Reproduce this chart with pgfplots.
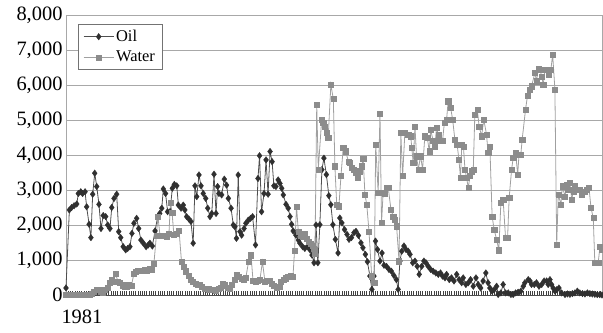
\documentclass[border=0pt]{standalone}
\usepackage{fontspec}
\setmainfont{Liberation Serif}
\usepackage{pgfplots}
\usepackage{pgfplotstable}
\pgfplotsset{compat=1.18}
\definecolor{oilc}{HTML}{303030}
\definecolor{waterc}{HTML}{8C8C8C}
\definecolor{waterl}{HTML}{A0A0A0}
\definecolor{gridc}{HTML}{A8A8A8}

\pgfplotstableread{
m v
0 200
1.5 2430
2.5 2500
3.6 2550
4.8 2600
5.5 2900
6.6 2950
7.4 2900
8.5 2950
9.2 2520
10.3 2020
11.1 1640
11.9 2880
12.8 3480
13.7 3100
14.7 2590
15.6 1900
16.6 2270
17.7 2240
18.6 2000
19.6 1900
20.4 2500
21.4 2760
22.6 2880
23.5 1810
24.4 1640
25.5 1380
26.6 1290
27.5 1330
28.5 1380
29.4 1760
30.3 2050
31.5 2190
32.4 1900
33.4 1570
34.5 1480
35.7 1380
36.7 1430
37.4 1480
38.5 1400
39.7 1830
40.9 2240
41.8 2330
42.7 2480
43.4 3030
44.4 2900
45.3 2380
46.4 2380
47.4 3050
48.3 3160
49.4 3120
50.1 2570
51.3 2480
52.3 2570
53.0 2430
53.8 2240
54.8 2170
55.7 2100
56.7 1480
57.5 3120
58.3 2810
59.3 3430
60.2 3120
61.2 2900
62.3 2760
63.2 2480
64.2 2240
65.0 2330
66.0 3450
66.9 2330
67.6 3100
68.2 2900
69.4 2860
70.6 3310
71.6 3140
72.4 2760
73.6 2480
74.6 2000
75.3 1950
76.0 1620
76.8 3430
77.6 1810
78.3 1710
79.4 1900
80.2 2050
81.3 2140
82.3 2190
83.2 2240
84.5 1430
85.6 3330
86.3 3980
87.2 2380
88.3 2900
89.2 3860
90.1 2880
91.0 4100
91.9 3810
92.7 3120
93.6 3100
94.6 3290
95.4 3190
96.2 3050
96.9 2860
98.1 2590
99.1 2480
99.9 2240
100.6 2020
101.3 1830
102.5 1710
103.6 1570
104.3 1480
105.5 1380
106.5 1330
107.6 1380
108.8 1290
109.7 1140
110.6 920
111.5 2000
112.3 920
113.2 2010
114.1 3580
115.0 3910
116.1 3440
117.2 2840
118.1 2580
119.0 2010
120.1 1590
121.3 1200
122.1 2200
123.0 2060
124.2 1870
125.3 1730
126.2 1590
127.3 1640
128.4 1780
129.3 1820
130.4 1700
131.5 1490
132.4 1350
133.5 1160
134.4 950
135.5 540
136.4 160
137.3 540
138.0 1540
138.9 1300
140.0 970
140.9 1200
141.8 850
142.9 820
144.0 730
145.1 680
146.2 560
147.3 440
148.1 160
148.9 970
149.7 1250
150.7 1400
151.6 1300
152.6 1250
153.4 1160
154.6 920
155.6 970
156.6 820
157.5 590
158.6 820
159.6 970
160.5 920
161.5 820
162.6 730
163.7 680
164.9 630
166.0 590
167.0 630
167.9 540
169.0 490
169.7 590
170.9 440
171.9 490
173.0 400
174.2 590
175.3 440
176.4 350
177.1 490
178.3 300
179.4 350
180.4 440
181.6 250
182.8 490
183.8 300
184.9 200
186.0 400
187.2 630
188.2 350
189.0 200
190.0 110
190.9 150
192.0 250
192.7 15
193.9 60
194.9 300
196.0 60
197.2 60
198.4 15
199.4 15
200.5 60
201.6 80
202.8 110
203.9 250
204.6 350
206.1 440
206.9 400
207.6 300
208.8 300
209.8 350
210.9 250
212.1 300
213.2 400
214.3 400
215.0 300
215.8 440
216.5 300
217.2 200
218.0 110
218.8 150
219.8 200
221.0 60
222.5 15
223.6 30
224.7 20
225.8 40
226.9 60
228.0 110
229.1 60
230.3 40
231.4 30
232.5 60
233.6 40
234.7 30
235.8 20
236.9 10
238.0 10
239.0 0
}\oiltable

\pgfplotstableread{
m v
0 0
1.3 0
2.5 0
3.6 0
4.5 0
5.6 0
6.7 0
7.6 0
8.7 0
9.6 0
10.7 0
11.6 30
12.5 100
13.6 150
14.5 150
15.6 100
16.5 80
17.4 150
18.5 200
19.4 350
20.3 450
21.2 380
22.1 600
23.2 380
24.1 350
25.2 280
26.3 250
27.2 250
28.1 280
29.2 270
30.3 620
31.2 660
32.1 700
33.2 700
34.3 700
35.2 720
36.1 700
37.2 750
38.3 720
39.2 900
40.3 1700
41.0 2250
41.9 1700
43.0 1700
44.1 1700
45.0 1680
45.9 1750
46.6 2650
47.3 2350
48.1 1720
49.3 1750
50.4 1850
51.5 950
52.4 820
53.5 680
54.6 560
55.5 430
56.6 380
57.7 330
58.6 290
59.7 290
60.6 240
61.7 190
62.9 190
63.7 170
64.9 150
65.8 150
66.9 140
68.0 190
68.9 220
70.0 330
70.9 280
72.0 200
73.1 180
74.0 300
75.1 430
76.2 570
77.1 520
78.2 470
79.1 430
80.2 500
81.4 950
82.5 1140
83.4 400
84.5 380
85.6 420
86.5 450
87.6 950
88.7 380
89.6 420
90.7 400
91.8 330
92.7 260
93.8 200
95.0 230
95.8 380
97.0 430
98.1 480
99.0 520
100.1 540
101.2 520
101.9 1260
102.8 2520
103.6 1810
104.5 1710
105.4 1660
106.3 1760
107.2 1620
108.1 1520
109.0 1470
109.9 1420
110.6 1330
111.0 1190
111.8 5430
112.5 3590
114.0 5010
114.7 4920
115.5 4820
116.2 4630
116.9 4490
118.1 6010
119.2 5600
119.9 3680
120.7 2590
121.7 2540
122.6 3400
123.6 4200
124.7 4110
125.9 3820
126.6 3780
127.4 3630
128.1 3590
129.1 3490
130.0 3350
131.1 3540
131.8 3680
132.5 3890
133.3 2870
134.1 2590
135.1 1820
136.3 540
137.4 350
138.1 4300
139.2 2920
140.0 5190
140.7 2060
141.4 2920
142.2 2900
143.0 3060
143.7 3060
144.9 2440
145.9 2250
146.7 2160
147.4 1970
148.5 970
149.3 4630
150.1 3400
151.1 4630
152.6 4590
153.7 4540
154.2 4200
154.8 3780
155.6 4820
156.3 3970
157.1 3590
158.1 3970
159.0 3590
160.0 4540
161.1 4490
162.0 4110
162.6 4730
163.7 4400
164.5 4250
165.2 4780
166.0 4590
166.7 4400
167.9 4400
168.7 4920
169.7 5010
170.4 5540
171.5 5350
172.4 5010
173.4 4440
174.4 4300
175.2 3870
175.9 3350
176.5 4300
177.2 4250
177.9 3590
178.6 3350
179.4 3060
180.1 3400
180.9 3540
181.6 3590
182.3 5160
183.4 5300
184.2 4820
185.3 4540
186.3 5010
187.5 4590
188.2 4060
189.0 4250
190.0 2250
190.9 1870
192.0 1590
193.0 1280
193.9 2630
194.9 2730
196.0 1630
196.9 1630
197.6 2780
198.7 3590
199.4 3920
200.5 4060
201.4 3440
202.0 4010
202.8 4010
203.4 4440
204.9 5300
205.8 5700
206.9 5870
207.6 5970
209.1 6350
209.8 6110
210.6 6470
211.3 6450
212.1 6250
212.8 6020
213.6 6440
214.8 6440
215.3 6300
216.2 6440
217.0 6870
218.0 5870
218.8 1440
219.5 2870
220.7 2590
221.3 3110
222.5 2820
223.2 3160
223.9 3020
224.7 3200
225.5 2730
226.2 2950
226.9 3110
228.1 3020
229.1 3020
229.9 2870
231.1 2950
232.1 3020
233.2 3060
234.1 2490
235.1 2200
235.8 920
237.3 920
238.1 1390
239.0 1300
}\watertable

\begin{document}
\begin{tikzpicture}
\path[use as bounding box] (-66bp,-38bp) rectangle (537bp,295bp);
\begin{axis}[
  at={(0,0)}, anchor=south west,
  scale only axis,
  width=536bp, height=280bp,
  xmin=0, xmax=239,
  ymin=0, ymax=8000,
  ytick={0,1000,...,8000},
  ymajorgrids,
  grid style={gridc, line width=0.9bp},
  axis line style={gridc, line width=0.9bp},
  y tick style={draw=none},
  xtick={0,1,...,239},
  xticklabels={},
  x tick style={draw=black!75, line width=0.5bp},
  xtick pos=bottom,
  tick align=inside,
  major tick length=4bp,
  extra x ticks={0},
  extra x tick labels={1981},
  extra x tick style={major tick length=0pt, grid=none,
     xticklabel style={anchor=north west, xshift=-8bp, yshift=-11bp}},
  tick label style={font=\fontsize{20.5}{23}\selectfont},
  /pgf/number format/assume math mode=true,
  yticklabel style={/pgf/number format/.cd, fixed, 1000 sep={,}},
  clip=false,
  legend style={at={(0.0224,0.968)}, anchor=north west, draw=black!55,
    line width=0.6bp, font=\fontsize{16.5}{18}\selectfont,
    inner xsep=5bp, inner ysep=4bp, row sep=4bp,
    cells={anchor=west}},
  legend image code/.code={%
    \draw[mark repeat=2,mark phase=2,#1] plot coordinates {(0bp,0bp) (15bp,0bp) (30bp,0bp)};},
]
\draw[black!70, line width=1bp] (axis cs:0,0) -- (axis cs:239,0);
\addplot[color=oilc!85, line width=0.8bp, mark=diamond*, mark size=3.3bp,
  mark options={fill=oilc, draw=oilc, line width=0.3bp}] table[x=m, y=v] {\oiltable};
\addlegendentry{Oil}
\addplot[color=waterl, line width=0.8bp, mark=square*, mark size=2.6bp,
  mark options={fill=waterc, draw=waterc, line width=0.3bp}] table[x=m, y=v] {\watertable};
\addlegendentry{Water\hspace{30bp}}
\end{axis}
\end{tikzpicture}
\end{document}
